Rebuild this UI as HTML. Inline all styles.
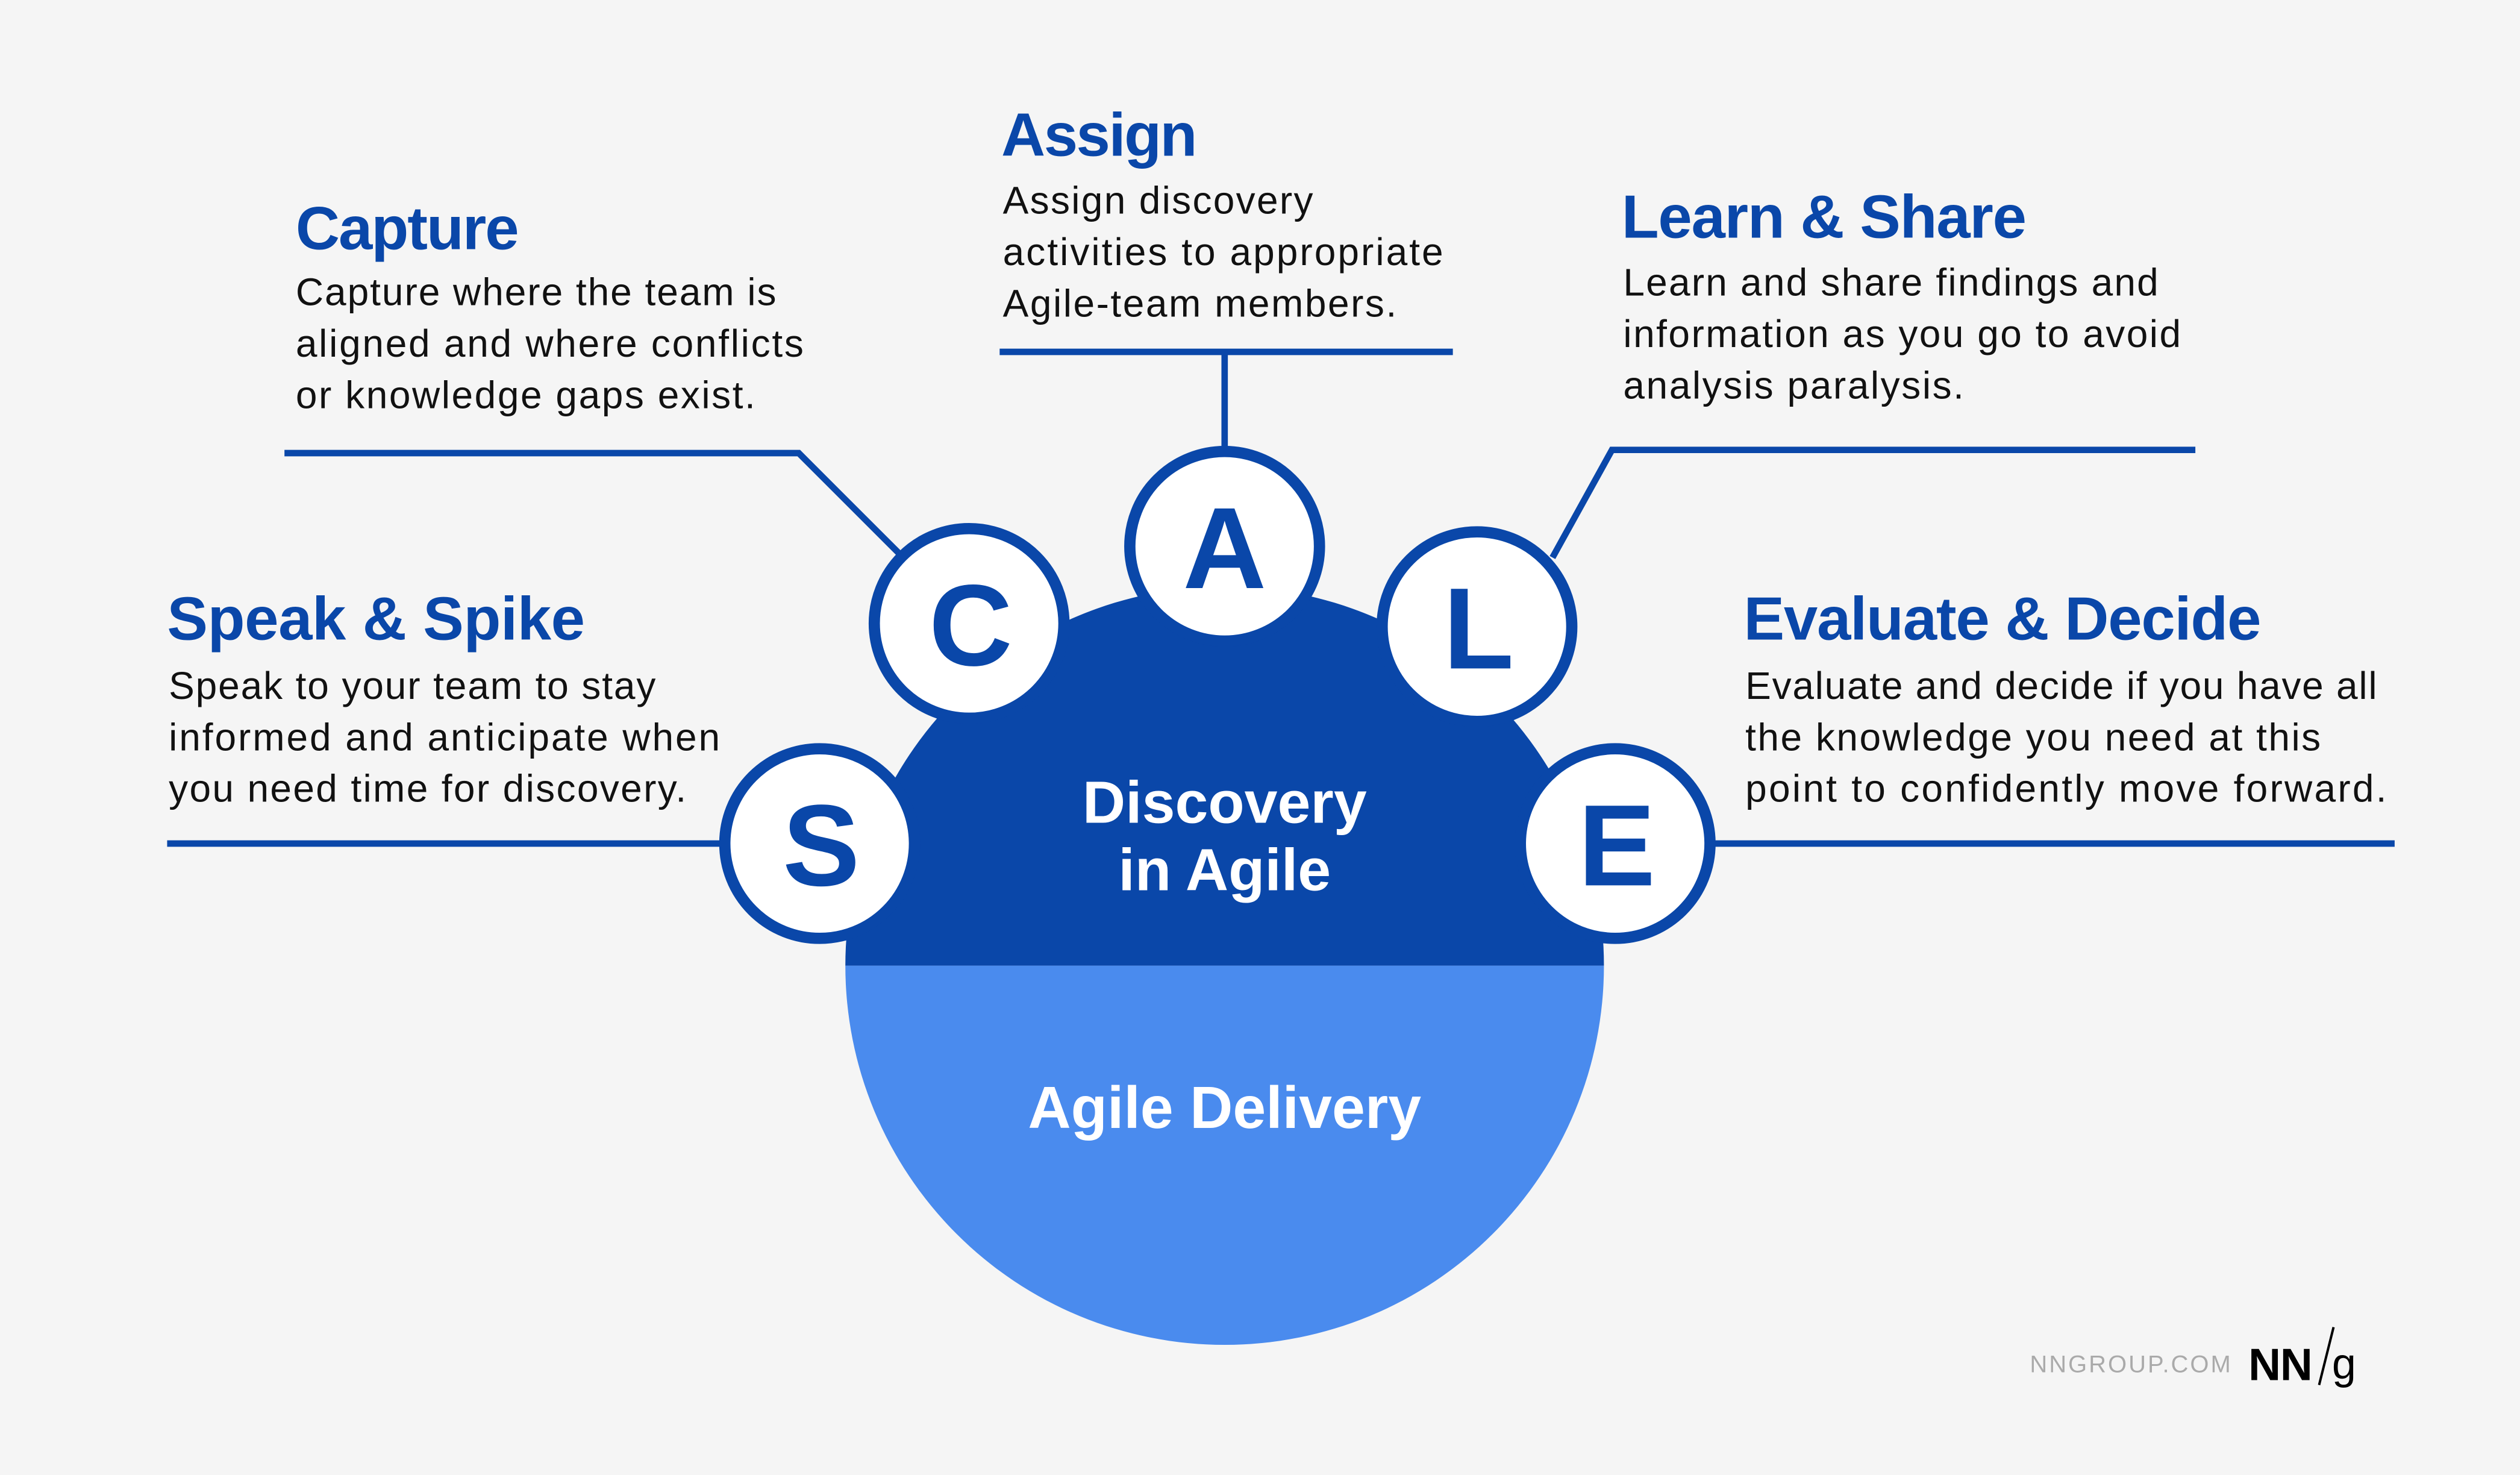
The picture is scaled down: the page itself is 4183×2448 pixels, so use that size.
<!DOCTYPE html>
<html><head><meta charset="utf-8"><style>
html,body{margin:0;padding:0;background:#f5f5f5;}
svg{display:block;}
text{font-family:"Liberation Sans",sans-serif;}
.t{font-weight:bold;font-size:38px;fill:#0a47a9;}
.b{font-size:24px;fill:#111;}
.l{font-weight:bold;font-size:72px;fill:#0a47a9;text-anchor:middle;}
.w{font-weight:bold;font-size:37px;fill:#fff;text-anchor:middle;}
</style></head><body>
<svg width="4183" height="2448" viewBox="0 0 1568 918" preserveAspectRatio="none" xmlns="http://www.w3.org/2000/svg">
<rect width="1568" height="918" fill="#f5f5f5"/>
<path d="M526,601 A236,236 0 0 0 998,601 Z" fill="#4a8bee"/>
<path d="M526,601 A236,236 0 0 1 998,601 Z" fill="#0a47a9"/>
<g stroke="#0a47a9" stroke-width="4" fill="none">
<line x1="104" y1="525" x2="455" y2="525"/>
<polyline points="177,282 497,282 562,347"/>
<polyline points="622,219 904,219"/>
<line x1="762" y1="219" x2="762" y2="280"/>
<polyline points="1366,280 1003,280 966,347"/>
<line x1="1060" y1="525" x2="1490" y2="525"/>
</g>
<g fill="#fff" stroke="#0a47a9" stroke-width="7">
<circle cx="510" cy="525" r="59"/>
<circle cx="603" cy="388" r="59"/>
<circle cx="762" cy="340" r="59"/>
<circle cx="919" cy="390" r="59"/>
<circle cx="1005" cy="525" r="59"/>
</g>
<text class="l" x="511" y="551">S</text>
<text class="l" x="604" y="414">C</text>
<text class="l" x="762" y="366">A</text>
<text class="l" x="920" y="416">L</text>
<text class="l" x="1006" y="551">E</text>
<text class="w" x="762" y="512">Discovery</text>
<text class="w" x="762" y="554">in Agile</text>
<text class="w" x="762" y="702">Agile Delivery</text>
<text class="t" x="623" y="97" textLength="122">Assign</text>
<text class="b" x="624" y="133" textLength="193">Assign discovery</text>
<text class="b" x="624" y="165" textLength="274">activities to appropriate</text>
<text class="b" x="624" y="197" textLength="245">Agile-team members.</text>
<text class="t" x="184" y="155" textLength="139">Capture</text>
<text class="b" x="184" y="190" textLength="299">Capture where the team is</text>
<text class="b" x="184" y="222" textLength="316">aligned and where conflicts</text>
<text class="b" x="184" y="254" textLength="286">or knowledge gaps exist.</text>
<text class="t" x="1009" y="148" textLength="252">Learn &amp; Share</text>
<text class="b" x="1010" y="184" textLength="333">Learn and share findings and</text>
<text class="b" x="1010" y="216" textLength="347">information as you go to avoid</text>
<text class="b" x="1010" y="248" textLength="212">analysis paralysis.</text>
<text class="t" x="104" y="398" textLength="260">Speak &amp; Spike</text>
<text class="b" x="105" y="435" textLength="303">Speak to your team to stay</text>
<text class="b" x="105" y="467" textLength="343">informed and anticipate when</text>
<text class="b" x="105" y="499" textLength="322">you need time for discovery.</text>
<text class="t" x="1085" y="398" textLength="322">Evaluate &amp; Decide</text>
<text class="b" x="1086" y="435" textLength="393">Evaluate and decide if you have all</text>
<text class="b" x="1086" y="467" textLength="358">the knowledge you need at this</text>
<text class="b" x="1086" y="499" textLength="399">point to  confidently move forward.</text>
<text x="1263" y="854" font-size="15" fill="#aaa" textLength="126" letter-spacing="1">NNGROUP.COM</text>
<text x="1399" y="859" font-size="28" font-weight="bold" fill="#000" textLength="40">NN</text>
<line x1="1443" y1="862" x2="1452" y2="826" stroke="#000" stroke-width="1.5"/>
<text x="1451" y="858" font-size="27" font-family="Liberation Serif" fill="#000">g</text>
</svg>
</body></html>
